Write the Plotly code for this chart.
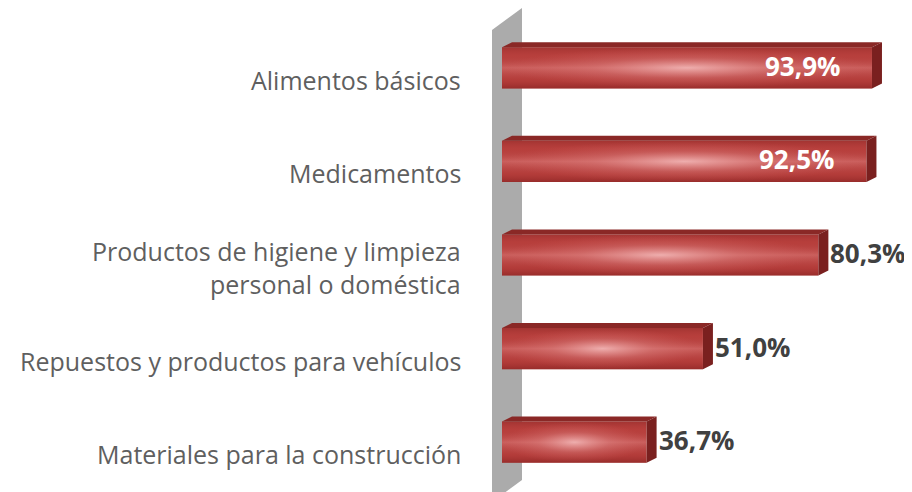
import plotly.graph_objects as go

categories = [
    "Alimentos básicos",
    "Medicamentos",
    "Productos de higiene y limpieza<br>personal o doméstica",
    "Repuestos y productos para vehículos",
    "Materiales para la construcción",
]
values = [93.9, 92.5, 80.3, 51.0, 36.7]
value_labels = ["93,9%", "92,5%", "80,3%", "51,0%", "36,7%"]
inside = [True, True, False, False, False]

# page has an 8px body margin, so the figure is 8px smaller than the window
OFF = 8
W, H = 912 - OFF, 492 - OFF
ML, MR, MT, MB = 480 - OFF, 0, 0, 0
PX_PER_UNIT = 3.94          # pixels per percentage point
BAND = 93.6                  # pixels per category
ZERO_PX = 502                # page x of the value 0
FIRST_PX = 67.8              # page y of the first category centre


def px_x(p):
    return (p - ZERO_PX) / PX_PER_UNIT


def px_y(p):
    return (p - FIRST_PX) / BAND


X0, X1 = px_x(480), px_x(912)
Y0, Y1 = px_y(8), px_y(492)

BW = 0.44                    # bar thickness (category units)
DX = 10 / PX_PER_UNIT        # 3d depth, horizontal
DY = 5 / BAND                # 3d depth, vertical

ypos = list(range(len(values)))

fig = go.Figure()

# front face
fig.add_trace(go.Bar(x=values, y=ypos, orientation="h", width=BW,
                     marker=dict(color="#B9403D", line=dict(width=0)),
                     hoverinfo="skip"))

for v, y in zip(values, ypos):
    top, bot = y - BW / 2, y + BW / 2
    # top face
    fig.add_trace(go.Scatter(
        x=[0, v, v + DX, DX, 0], y=[top, top, top - DY, top - DY, top],
        fill="toself", mode="lines", line=dict(width=0),
        fillcolor="#8A2826", hoverinfo="skip"))
    # right side face
    fig.add_trace(go.Scatter(
        x=[v, v + DX, v + DX, v, v], y=[top, top - DY, bot - DY, bot, top],
        fill="toself", mode="lines", line=dict(width=0),
        fillcolor="#7A201F", hoverinfo="skip"))
    # vertical shading on the front face
    fig.add_trace(go.Scatter(
        x=[0, v, v, 0, 0], y=[top, top, bot, bot, top],
        fill="toself", mode="lines", line=dict(width=0),
        fillgradient=dict(type="vertical", colorscale=[
            [0, "rgba(110,20,20,0.45)"], [0.2, "rgba(150,40,40,0.15)"],
            [0.5, "rgba(255,190,190,0.25)"], [0.8, "rgba(150,40,40,0.05)"],
            [1, "rgba(110,25,25,0.30)"]]),
        hoverinfo="skip"))
    # central highlight
    fig.add_trace(go.Scatter(
        x=[0, v, v, 0, 0], y=[top, top, bot, bot, top],
        fill="toself", mode="lines", line=dict(width=0),
        fillgradient=dict(type="radial", colorscale=[
            [0, "rgba(250,200,200,0.75)"], [0.5, "rgba(240,160,160,0.25)"],
            [1, "rgba(230,120,120,0)"]]),
        hoverinfo="skip"))

# category labels
for c, y in zip(categories, ypos):
    fig.add_annotation(x=0, xref="paper", y=y, yref="y", text=c,
                       xanchor="right", yanchor="middle", align="right",
                       xshift=-17, yshift=-12, showarrow=False,
                       font=dict(family="Open Sans", size=25, color="#5f5f5f"))

# value labels
for v, y, t, ins in zip(values, ypos, value_labels, inside):
    if ins:
        fig.add_annotation(x=v, y=y, text=f"<b>{t}</b>", xanchor="right",
                           xshift=-30, yshift=2, showarrow=False,
                           font=dict(family="Open Sans", size=26, color="white"))
    else:
        fig.add_annotation(x=v, y=y, text=f"<b>{t}</b>", xanchor="left",
                           xshift=10, yshift=2, showarrow=False,
                           font=dict(family="Open Sans", size=26, color="#404040"))

# side wall
fig.add_shape(type="path", xref="x", yref="y", layer="below",
              path=(f"M {px_x(492)},{px_y(30)} L {px_x(522)},{px_y(8)} "
                    f"L {px_x(522)},{px_y(480)} L {px_x(492)},{px_y(502)} Z"),
              fillcolor="#ABABAB", line=dict(width=0))

fig.update_xaxes(range=[X0, X1], visible=False)
fig.update_yaxes(range=[Y1, Y0], visible=False)
fig.update_layout(width=W, height=H, showlegend=False,
                  margin=dict(l=ML, r=MR, t=MT, b=MB),
                  plot_bgcolor="white", paper_bgcolor="white")

fig.write_html("out.html")
